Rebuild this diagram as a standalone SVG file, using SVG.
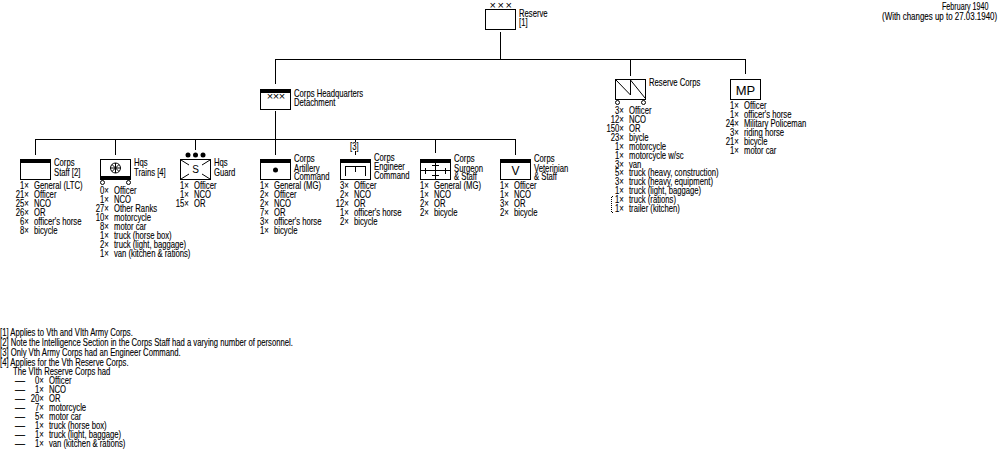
<svg xmlns="http://www.w3.org/2000/svg" width="1000" height="450" viewBox="0 0 1000 450">
<style>
text{font-family:"Liberation Sans",Arial,sans-serif;font-size:10px;fill:#000;stroke:#000;stroke-width:.12}
.sym{font-size:13px;text-anchor:middle;stroke:none}
.x{text-anchor:middle;font-size:11px;stroke:none}
.l{fill:none;stroke:#000;stroke-width:1;shape-rendering:crispEdges}
.d{fill:none;stroke:#000;stroke-width:1}
.w{fill:#fff;stroke:#000;stroke-width:1;shape-rendering:crispEdges}
.band{fill:#000}
tspan{font-size:10px}
</style>
<rect width="1000" height="450" fill="#fff"/>
<g id="connectors">
<path class="l" d="M500.5 32V59.5M275.5 59.5H745.5M275.5 59V84M630.5 59V76M745.5 59V74M275.5 111V155M35.5 139.5H515.5M35.5 139V155M115.5 139V155M195.5 139V150M355.5 139V142M355.5 151V155M435.5 139V153M515.5 139V155"/>
</g>
<g id="date">
<text transform="matrix(.715 0 0 1 942 10)">February 1940</text>
<text transform="matrix(.795 0 0 1 882 20)">(With changes up to 27.03.1940)</text>
</g>
<g id="reserve">
<rect class="w" x="485.5" y="9.5" width="30" height="20"/>
<text class="x" transform="translate(492.7 8.5)">×</text><text class="x" transform="translate(500.7 8.5)">×</text><text class="x" transform="translate(508.7 8.5)">×</text>
<text transform="matrix(.77 0 0 1 519 16.5)">Reserve</text>
<text transform="matrix(.77 0 0 1 519 25.5)">[1]</text>
</g>
<g id="hq">
<rect class="w" x="260.5" y="89.5" width="30" height="20"/><rect class="band" x="260" y="89" width="31" height="4"/>
<text class="x" transform="translate(270 100)">×</text><text class="x" transform="translate(276 100)">×</text><text class="x" transform="translate(282 100)">×</text>
<text transform="matrix(.77 0 0 1 294 96.5)">Corps Headquarters</text>
<text transform="matrix(.77 0 0 1 294 105.5)">Detachment</text>
</g>
<g id="staff">
<rect class="w" x="20.5" y="159.5" width="30" height="20"/><rect class="band" x="20" y="159" width="31" height="4"/>
<text transform="matrix(.77 0 0 1 54 165.5)">Corps</text><text transform="matrix(.77 0 0 1 54 175.5)">Staff [2]</text>
<text transform="matrix(.77 0 0 1 20 189)">1× <tspan dx="4">General (LTC)</tspan></text>
<text transform="matrix(.77 0 0 1 15.7 198)">21× <tspan dx="4">Officer</tspan></text>
<text transform="matrix(.77 0 0 1 15.7 207)">25× <tspan dx="4">NCO</tspan></text>
<text transform="matrix(.77 0 0 1 15.7 216)">26× <tspan dx="4">OR</tspan></text>
<text transform="matrix(.77 0 0 1 20 225)">6× <tspan dx="4">officer's horse</tspan></text>
<text transform="matrix(.77 0 0 1 20 234)">8× <tspan dx="4">bicycle</tspan></text>
</g>
<g id="trains">
<rect class="w" x="100.5" y="159.5" width="30" height="20"/><rect class="band" x="100" y="176" width="31" height="4"/>
<circle class="d" cx="115.5" cy="168" r="5"/><path class="d" d="M110.5 168H120.5M115.5 163V173M112 164.5L119 171.5M119 164.5L112 171.5"/>
<circle class="d" cx="102.5" cy="182.5" r="2"/><circle class="d" cx="128.5" cy="182.5" r="2"/>
<text transform="matrix(.77 0 0 1 134 165.5)">Hqs</text><text transform="matrix(.77 0 0 1 134 175.5)">Trains [4]</text>
<text transform="matrix(.77 0 0 1 100 194)">0× <tspan dx="4">Officer</tspan></text>
<text transform="matrix(.77 0 0 1 100 203)">1× <tspan dx="4">NCO</tspan></text>
<text transform="matrix(.77 0 0 1 95.7 212)">27× <tspan dx="4">Other Ranks</tspan></text>
<text transform="matrix(.77 0 0 1 95.7 221)">10× <tspan dx="4">motorcycle</tspan></text>
<text transform="matrix(.77 0 0 1 100 230)">8× <tspan dx="4">motor car</tspan></text>
<text transform="matrix(.77 0 0 1 100 239)">1× <tspan dx="4">truck (horse box)</tspan></text>
<text transform="matrix(.77 0 0 1 100 248)">2× <tspan dx="4">truck (light, baggage)</tspan></text>
<text transform="matrix(.77 0 0 1 100 257)">1× <tspan dx="4">van (kitchen &amp; rations)</tspan></text>
</g>
<g id="guard">
<rect class="w" x="180.5" y="159.5" width="30" height="20"/>
<path class="d" d="M181 160L189 165M210 160L202 165M181 179L189 174M210 179L202 174"/>
<circle cx="188" cy="155" r="2.5"/><circle cx="195.5" cy="155" r="2.5"/><circle cx="203" cy="155" r="2.5"/>
<text class="sym" style="font-size:10px" transform="translate(195.5 173)">S</text>
<text transform="matrix(.77 0 0 1 214 165.5)">Hqs</text><text transform="matrix(.77 0 0 1 214 175.5)">Guard</text>
<text transform="matrix(.77 0 0 1 180 189)">1× <tspan dx="4">Officer</tspan></text>
<text transform="matrix(.77 0 0 1 180 198)">1× <tspan dx="4">NCO</tspan></text>
<text transform="matrix(.77 0 0 1 175.7 207)">15× <tspan dx="4">OR</tspan></text>
</g>
<g id="artillery">
<rect class="w" x="260.5" y="159.5" width="30" height="20"/><rect class="band" x="260" y="159" width="31" height="4"/>
<circle cx="275.5" cy="170" r="2.5"/>
<text transform="matrix(.77 0 0 1 294 162)">Corps</text><text transform="matrix(.77 0 0 1 294 171.5)">Artillery</text><text transform="matrix(.77 0 0 1 294 180)">Command</text>
<text transform="matrix(.77 0 0 1 260 189)">1× <tspan dx="4">General (MG)</tspan></text>
<text transform="matrix(.77 0 0 1 260 198)">2× <tspan dx="4">Officer</tspan></text>
<text transform="matrix(.77 0 0 1 260 207)">2× <tspan dx="4">NCO</tspan></text>
<text transform="matrix(.77 0 0 1 260 216)">7× <tspan dx="4">OR</tspan></text>
<text transform="matrix(.77 0 0 1 260 225)">3× <tspan dx="4">officer's horse</tspan></text>
<text transform="matrix(.77 0 0 1 260 234)">1× <tspan dx="4">bicycle</tspan></text>
</g>
<g id="engineer">
<rect class="w" x="340.5" y="159.5" width="30" height="20"/><rect class="band" x="340" y="159" width="31" height="4"/>
<path class="l" d="M345.5 176V166.5H365.5V176M355.5 166V172"/>
<text transform="matrix(.77 0 0 1 350 150)">[3]</text>
<text transform="matrix(.77 0 0 1 374 161)">Corps</text><text transform="matrix(.77 0 0 1 374 170)">Engineer</text><text transform="matrix(.77 0 0 1 374 179)">Command</text>
<text transform="matrix(.77 0 0 1 340 189)">3× <tspan dx="4">Officer</tspan></text>
<text transform="matrix(.77 0 0 1 340 198)">2× <tspan dx="4">NCO</tspan></text>
<text transform="matrix(.77 0 0 1 335.7 207)">12× <tspan dx="4">OR</tspan></text>
<text transform="matrix(.77 0 0 1 340 216)">1× <tspan dx="4">officer's horse</tspan></text>
<text transform="matrix(.77 0 0 1 340 225)">2× <tspan dx="4">bicycle</tspan></text>
</g>
<g id="surgeon">
<rect class="w" x="420.5" y="159.5" width="30" height="20"/><rect class="band" x="420" y="159" width="31" height="4"/>
<path class="l" d="M420 170.5H450M435.5 163V179M432 165.5H439M432 175.5H439M425.5 168V174M445.5 168V174"/>
<text transform="matrix(.77 0 0 1 454 162)">Corps</text><text transform="matrix(.77 0 0 1 454 171.5)">Surgeon</text><text transform="matrix(.77 0 0 1 454 180)">&amp; Staff</text>
<text transform="matrix(.77 0 0 1 420 189)">1× <tspan dx="4">General (MG)</tspan></text>
<text transform="matrix(.77 0 0 1 420 198)">1× <tspan dx="4">NCO</tspan></text>
<text transform="matrix(.77 0 0 1 420 207)">2× <tspan dx="4">OR</tspan></text>
<text transform="matrix(.77 0 0 1 420 216)">2× <tspan dx="4">bicycle</tspan></text>
</g>
<g id="veterinary">
<rect class="w" x="500.5" y="159.5" width="30" height="20"/><rect class="band" x="500" y="159" width="31" height="4"/>
<text class="sym" style="font-size:12px" transform="translate(515.5 175)">V</text>
<text transform="matrix(.77 0 0 1 534 162)">Corps</text><text transform="matrix(.77 0 0 1 534 171.5)">Veterinian</text><text transform="matrix(.77 0 0 1 534 180)">&amp; Staff</text>
<text transform="matrix(.77 0 0 1 500 189)">1× <tspan dx="4">Officer</tspan></text>
<text transform="matrix(.77 0 0 1 500 198)">1× <tspan dx="4">NCO</tspan></text>
<text transform="matrix(.77 0 0 1 500 207)">3× <tspan dx="4">OR</tspan></text>
<text transform="matrix(.77 0 0 1 500 216)">2× <tspan dx="4">bicycle</tspan></text>
</g>
<g id="reserve-corps">
<rect class="w" x="615.5" y="79.5" width="30" height="20"/>
<path class="d" d="M616 80L630.5 95V80L645 98"/>
<circle class="d" cx="617.5" cy="102.5" r="2"/><circle class="d" cx="643.5" cy="102.5" r="2"/>
<text transform="matrix(.77 0 0 1 649 86)">Reserve Corps</text>
<text transform="matrix(.77 0 0 1 615 114)">3× <tspan dx="4">Officer</tspan></text>
<text transform="matrix(.77 0 0 1 610.7 123)">12× <tspan dx="4">NCO</tspan></text>
<text transform="matrix(.77 0 0 1 606.4 132)">150× <tspan dx="4">OR</tspan></text>
<text transform="matrix(.77 0 0 1 610.7 141)">23× <tspan dx="4">biycle</tspan></text>
<text transform="matrix(.77 0 0 1 615 150)">1× <tspan dx="4">motorcycle</tspan></text>
<text transform="matrix(.77 0 0 1 615 159)">1× <tspan dx="4">motorcycle w/sc</tspan></text>
<text transform="matrix(.77 0 0 1 615 168)">3× <tspan dx="4">van</tspan></text>
<text transform="matrix(.77 0 0 1 615 176)">5× <tspan dx="4">truck (heavy, construction)</tspan></text>
<text transform="matrix(.77 0 0 1 615 185)">3× <tspan dx="4">truck (heavy, equipment)</tspan></text>
<text transform="matrix(.77 0 0 1 615 194)">1× <tspan dx="4">truck (light, baggage)</tspan></text>
<text transform="matrix(.77 0 0 1 615 203)">1× <tspan dx="4">truck (rations)</tspan></text>
<text transform="matrix(.77 0 0 1 615 212)">1× <tspan dx="4">trailer (kitchen)</tspan></text>
<path class="l" stroke-dasharray="1 1" d="M613 196.5H611.5V212.5H613"/>
</g>
<g id="mp">
<rect class="w" x="730.5" y="79.5" width="30" height="20"/>
<text class="sym" style="font-size:13px" transform="translate(745.5 94.5)">MP</text>
<text transform="matrix(.77 0 0 1 730 109)">1× <tspan dx="4">Officer</tspan></text>
<text transform="matrix(.77 0 0 1 730 118)">1× <tspan dx="4">officer's horse</tspan></text>
<text transform="matrix(.77 0 0 1 725.7 127)">24× <tspan dx="4">Military Policeman</tspan></text>
<text transform="matrix(.77 0 0 1 730 136)">3× <tspan dx="4">riding horse</tspan></text>
<text transform="matrix(.77 0 0 1 725.7 145)">21× <tspan dx="4">bicycle</tspan></text>
<text transform="matrix(.77 0 0 1 730 154)">1× <tspan dx="4">motor car</tspan></text>
</g>
<g id="notes">
<text transform="matrix(.77 0 0 1 0 336)">[1] Applies to Vth and VIth Army Corps.</text>
<text transform="matrix(.77 0 0 1 0 346)">[2] Note the Intelligence Section in the Corps Staff had a varying number of personnel.</text>
<text transform="matrix(.77 0 0 1 0 356)">[3] Only Vth Army Corps had an Engineer Command.</text>
<text transform="matrix(.77 0 0 1 0 366)">[4] Applies for the Vth Reserve Corps.</text>
<text transform="matrix(.77 0 0 1 13 375)">The VIth Reserve Corps had</text>
<text transform="translate(15 384)">—</text><text transform="matrix(.77 0 0 1 35 384)">0× <tspan dx="4">Officer</tspan></text>
<text transform="translate(15 393)">—</text><text transform="matrix(.77 0 0 1 35 393)">1× <tspan dx="4">NCO</tspan></text>
<text transform="translate(15 402)">—</text><text transform="matrix(.77 0 0 1 30.7 402)">20× <tspan dx="4">OR</tspan></text>
<text transform="translate(15 411)">—</text><text transform="matrix(.77 0 0 1 35 411)">7× <tspan dx="4">motorcycle</tspan></text>
<text transform="translate(15 420)">—</text><text transform="matrix(.77 0 0 1 35 420)">5× <tspan dx="4">motor car</tspan></text>
<text transform="translate(15 429)">—</text><text transform="matrix(.77 0 0 1 35 429)">1× <tspan dx="4">truck (horse box)</tspan></text>
<text transform="translate(15 438)">—</text><text transform="matrix(.77 0 0 1 35 438)">1× <tspan dx="4">truck (light, baggage)</tspan></text>
<text transform="translate(15 447)">—</text><text transform="matrix(.77 0 0 1 35 447)">1× <tspan dx="4">van (kitchen &amp; rations)</tspan></text>
</g>
</svg>
